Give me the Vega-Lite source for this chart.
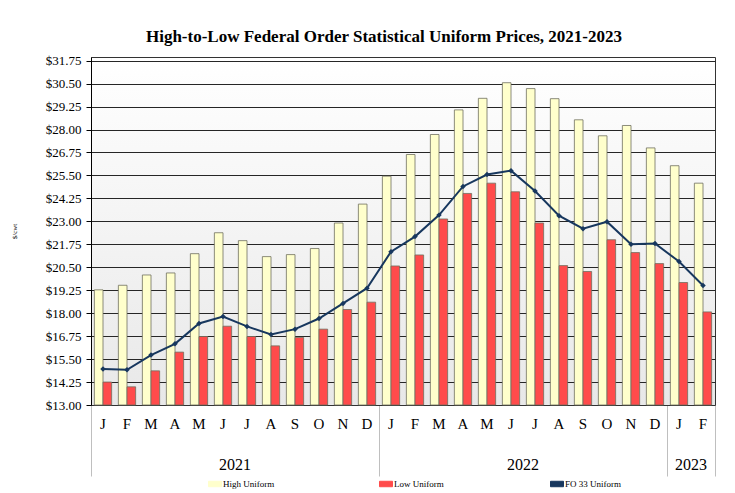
{
  "$schema": "https://vega.github.io/schema/vega-lite/v6.json",
  "width": 624,
  "height": 348,
  "padding": {"left": 10, "top": 27, "right": 10, "bottom": 0},
  "background": "white",
  "title": {"text": "High-to-Low Federal Order Statistical Uniform Prices, 2021-2023", "font": "Liberation Serif", "fontSize": 17, "fontWeight": "bold", "color": "black", "anchor": "middle", "offset": 9, "dx": -19},
  "view": {"stroke": "#333333", "fill": {"gradient": "linear", "x1": 0, "y1": 0, "x2": 0, "y2": 1, "stops": [{"offset": 0, "color": "#ffffff"}, {"offset": 1, "color": "#e8e8e8"}]}},
  "datasets": {
    "wide": [
      {"month": "2021-01", "high": 19.27, "low": 14.25, "fo33": 14.96},
      {"month": "2021-02", "high": 19.52, "low": 13.99, "fo33": 14.92},
      {"month": "2021-03", "high": 20.08, "low": 14.86, "fo33": 15.72},
      {"month": "2021-04", "high": 20.19, "low": 15.88, "fo33": 16.33},
      {"month": "2021-05", "high": 21.24, "low": 16.73, "fo33": 17.44},
      {"month": "2021-06", "high": 22.38, "low": 17.29, "fo33": 17.82},
      {"month": "2021-07", "high": 21.95, "low": 16.73, "fo33": 17.28},
      {"month": "2021-08", "high": 21.08, "low": 16.22, "fo33": 16.84},
      {"month": "2021-09", "high": 21.19, "low": 16.68, "fo33": 17.13},
      {"month": "2021-10", "high": 21.52, "low": 17.13, "fo33": 17.71},
      {"month": "2021-11", "high": 22.91, "low": 18.20, "fo33": 18.53},
      {"month": "2021-12", "high": 23.94, "low": 18.60, "fo33": 19.36},
      {"month": "2022-01", "high": 25.46, "low": 20.57, "fo33": 21.35},
      {"month": "2022-02", "high": 26.64, "low": 21.17, "fo33": 22.17},
      {"month": "2022-03", "high": 27.73, "low": 23.13, "fo33": 23.34},
      {"month": "2022-04", "high": 29.07, "low": 24.52, "fo33": 24.90},
      {"month": "2022-05", "high": 29.70, "low": 25.08, "fo33": 25.55},
      {"month": "2022-06", "high": 30.55, "low": 24.61, "fo33": 25.76},
      {"month": "2022-07", "high": 30.23, "low": 22.91, "fo33": 24.65},
      {"month": "2022-08", "high": 29.68, "low": 20.59, "fo33": 23.31},
      {"month": "2022-09", "high": 28.53, "low": 20.27, "fo33": 22.60},
      {"month": "2022-10", "high": 27.66, "low": 22.00, "fo33": 22.98},
      {"month": "2022-11", "high": 28.22, "low": 21.30, "fo33": 21.75},
      {"month": "2022-12", "high": 27.00, "low": 20.70, "fo33": 21.80},
      {"month": "2023-01", "high": 26.03, "low": 19.67, "fo33": 20.81},
      {"month": "2023-02", "high": 25.08, "low": 18.07, "fo33": 19.51}
    ]
  },
  "data": {"name": "wide"},
  "transform": [
    {"fold": ["high", "low", "fo33"], "as": ["key", "value"]},
    {"lookup": "key", "from": {"data": {"values": [{"key": "high", "series": "High Uniform"}, {"key": "low", "series": "Low Uniform"}, {"key": "fo33", "series": "FO 33 Uniform"}]}, "key": "key", "fields": ["series"]}}
  ],
  "encoding": {
    "y": {
      "field": "value", "type": "quantitative",
      "scale": {"domain": [13, 31.95], "nice": false, "zero": false},
      "axis": {
        "title": "$/cwt", "titleFont": "Liberation Serif", "titleFontSize": 7, "titleFontWeight": "normal", "titleColor": "black", "titlePadding": 28,
        "values": [13, 14.25, 15.5, 16.75, 18, 19.25, 20.5, 21.75, 23, 24.25, 25.5, 26.75, 28, 29.25, 30.5, 31.75],
        "format": "$.2f", "labelFont": "Liberation Serif", "labelFontSize": 13, "labelColor": "black", "labelPadding": 5,
        "domainColor": "black", "tickColor": "black", "tickSize": 5,
        "grid": true, "gridColor": "#262626", "gridWidth": 1, "gridOpacity": 1
      }
    }
  },
  "layer": [
    {
      "transform": [{"filter": "datum.series !== 'FO 33 Uniform'"}],
      "mark": {"type": "bar", "stroke": "#707060", "strokeWidth": 0.8},
      "encoding": {
        "x": {
          "field": "month", "type": "ordinal",
          "scale": {"paddingInner": 0, "paddingOuter": 0},
          "axis": {
            "title": null, "orient": "bottom",
            "labelExpr": "['J','F','M','A','M','J','J','A','S','O','N','D'][toNumber(substring(datum.value,5,7))-1]",
            "labelAngle": 0, "labelFont": "Liberation Serif", "labelFontSize": 15, "labelColor": "black", "labelPadding": -60,
            "domainColor": "#333333", "tickSize": 71, "tickColor": "#bfbfbf", "tickWidth": 1,
            "bandPosition": 1, "tickExtra": true,
            "tickOpacity": {"condition": {"test": "datum.extra || indexof(['2021-12','2022-12','2023-02'], datum.value) >= 0", "value": 1}, "value": 0},
            "grid": false
          }
        },
        "y2": {"datum": 13},
        "xOffset": {"field": "series", "type": "nominal", "sort": ["High Uniform", "Low Uniform"], "scale": {"paddingInner": 0, "paddingOuter": 0.39}},
        "color": {
          "field": "series", "type": "nominal",
          "scale": {"domain": ["High Uniform", "Low Uniform", "FO 33 Uniform"], "range": ["#FFFFCC", "#FF4B4B", "#17375E"]},
          "legend": {
            "orient": "none", "legendX": 117, "legendY": 420, "direction": "horizontal", "title": null,
            "labelFont": "Liberation Serif", "labelFontSize": 9, "labelColor": "black",
            "gridAlign": "all", "columnPadding": 98, "symbolSize": 169, "labelOffset": 1,
            "symbolType": "M-1,-0.42H1V0.42H-1Z", "symbolStrokeColor": "#555555", "symbolStrokeWidth": 1
          }
        }
      }
    },
    {
      "transform": [{"filter": "datum.series === 'FO 33 Uniform'"}],
      "mark": {"type": "line", "strokeWidth": 2, "point": {"shape": "diamond", "size": 30, "filled": true}},
      "encoding": {
        "x": {
          "field": "month", "type": "ordinal",
          "axis": {
            "title": null, "orient": "bottom",
            "values": ["2021-06", "2022-06", "2023-01"],
            "labelExpr": "substring(datum.value,0,4)", "labelOffset": 12, "labelAngle": 0,
            "labelFont": "Liberation Serif", "labelFontSize": 16, "labelColor": "black",
            "ticks": false, "domain": false, "labelPadding": 51, "grid": false
          }
        },
        "color": {"field": "series", "type": "nominal"}
      }
    }
  ],
  "resolve": {"axis": {"x": "independent"}}
}
